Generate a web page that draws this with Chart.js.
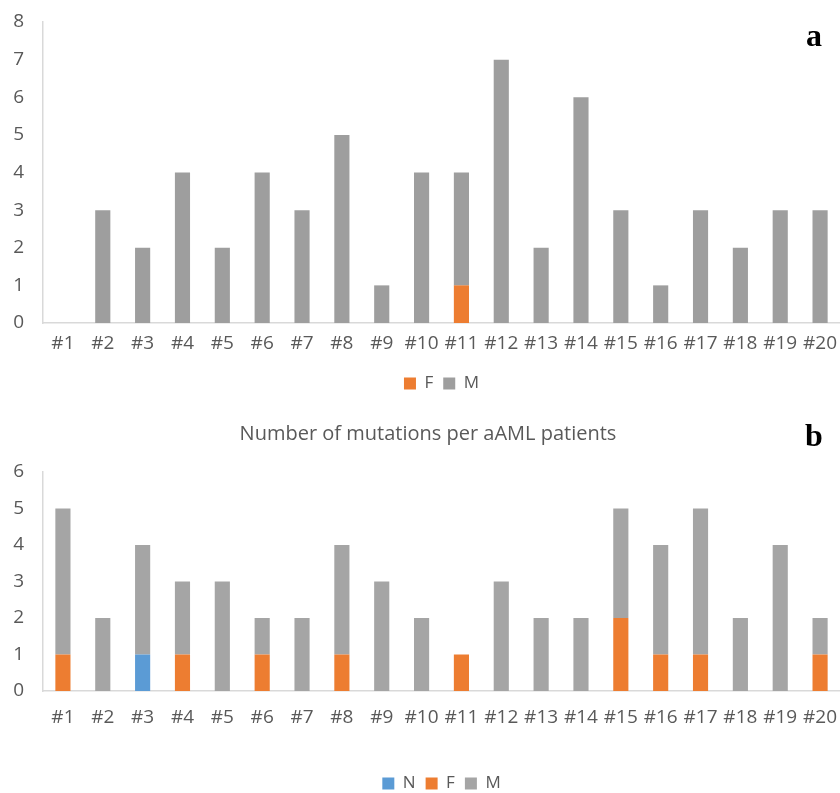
<!DOCTYPE html>
<html>
<head>
<meta charset="utf-8">
<script src="https://cdn.jsdelivr.net/npm/chart.js@4"></script>
<style>
  html, body { margin: 0; padding: 0; background: #fff; width: 840px; height: 793px; overflow: hidden; }
  .panel { position: absolute; left: 0; }
  #topPanel { top: 0; }
  #bottomPanel { top: 400px; }
  .tag { position: absolute; font-family: "Liberation Serif", "DejaVu Serif", serif; font-weight: bold; font-size: 32px; color: #000; line-height: 1; }
  #title { position: absolute; top: 420px; left: 0; width: 856px; text-align: center; font-family: "Open Sans", sans-serif; font-size: 20px; color: #595959; line-height: 26px; }
</style>
</head>
<body>
<div class="panel" id="topPanel"><canvas id="chartA" width="840" height="402"></canvas></div>
<div class="panel" id="bottomPanel"><canvas id="chartB" width="840" height="420"></canvas></div>
<div id="title">Number of mutations per aAML patients</div>
<div class="tag" style="left:806px; top:19px;">a</div>
<div class="tag" style="left:805px; top:419px;">b</div>
<script>
// Patient labels shared by both panels
const patients = ['#1','#2','#3','#4','#5','#6','#7','#8','#9','#10',
                  '#11','#12','#13','#14','#15','#16','#17','#18','#19','#20'];

// Panel a: mutation counts per patient
const aF = [0,0,0,0,0,0,0,0,0,0,1,0,0,0,0,0,0,0,0,0];
const aM = [0,3,2,4,2,4,3,5,1,4,3,7,2,6,3,1,3,2,3,3];
const aMax = 8;

// Panel b: mutation counts per aAML patient
const bN = [0,0,1,0,0,0,0,0,0,0,0,0,0,0,0,0,0,0,0,0];
const bF = [1,0,0,1,0,1,0,1,0,0,1,0,0,0,2,1,1,0,0,1];
const bM = [4,2,3,2,3,1,2,3,3,2,0,3,2,2,3,3,4,2,4,1];
const bMax = 6;

const TEXT = '#595959';
const AXIS = '#D9D9D9';
const TICK_FONT = { family: '"Open Sans", sans-serif', size: 19 };
const LEGEND_FONT = { family: '"Open Sans", sans-serif', size: 17 };

function makeOptions(cfg) {
  return {
    responsive: false,
    animation: false,
    devicePixelRatio: 1,
    layout: { padding: { top: cfg.padTop, bottom: cfg.padBottom, left: 0, right: 0 } },
    datasets: { bar: { barPercentage: 0.38, categoryPercentage: 1 } },
    plugins: {
      tooltip: { enabled: false },
      title: { display: false },
      legend: {
        position: 'bottom',
        fullSize: false,
        labels: { color: TEXT, font: LEGEND_FONT, boxWidth: 12, boxHeight: 12, padding: 10 }
      }
    },
    scales: {
      x: {
        stacked: true,
        grid: { display: false, drawTicks: false },
        border: { display: true, color: AXIS, width: 1.5 },
        ticks: { color: TEXT, font: TICK_FONT, padding: cfg.xPad, maxRotation: 0, autoSkip: false },
        afterFit: s => { s.height = cfg.xHeight; s.paddingLeft = 0; s.paddingRight = 0; }
      },
      y: {
        stacked: true,
        min: 0,
        max: cfg.max,
        grid: { display: false, drawTicks: false },
        border: { display: true, color: AXIS, width: 1.5 },
        ticks: { color: TEXT, font: TICK_FONT, stepSize: 1, padding: 19 },
        afterFit: s => { s.width = 43; s.paddingTop = 0; s.paddingBottom = 0; }
      }
    }
  };
}

new Chart(document.getElementById('chartA'), {
  type: 'bar',
  data: {
    labels: patients,
    datasets: [
      { label: 'F', data: aF, backgroundColor: '#ED7D31', borderWidth: 0 },
      { label: 'M', data: aM, backgroundColor: '#9E9E9E', borderWidth: 0 }
    ]
  },
  options: makeOptions({ max: aMax, padTop: 22, padBottom: 0, xHeight: 42, xPad: 9 })
});

new Chart(document.getElementById('chartB'), {
  type: 'bar',
  data: {
    labels: patients,
    datasets: [
      { label: 'N', data: bN, backgroundColor: '#5B9BD5', borderWidth: 0 },
      { label: 'F', data: bF, backgroundColor: '#ED7D31', borderWidth: 0 },
      { label: 'M', data: bM, backgroundColor: '#A5A5A5', borderWidth: 0 }
    ]
  },
  options: makeOptions({ max: bMax, padTop: 72, padBottom: 18, xHeight: 74, xPad: 15 })
});
</script>
</body>
</html>
